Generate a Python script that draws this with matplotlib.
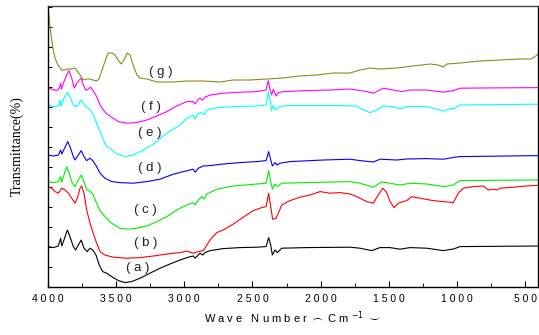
import matplotlib
matplotlib.use("Agg")
import matplotlib.pyplot as plt
import numpy as np

# FT-IR spectra (a)-(g), vertically offset transmittance in arbitrary units
wn_a = [4000, 3961, 3924, 3907, 3899, 3883, 3858, 3839, 3814, 3797, 3778, 3756, 3736, 3712, 3692, 3672,
        3648, 3624, 3599, 3569, 3533, 3484, 3435, 3386, 3325, 3252, 3178, 3105, 3031, 2971, 2934, 2921,
        2897, 2885, 2865, 2848, 2811, 2714, 2591, 2469, 2400, 2381, 2366, 2354, 2335, 2318, 2285, 2102,
        1784, 1711, 1625, 1564, 1491, 1417, 1344, 1222, 1100, 1026, 977, 397]
tr_a = [2.02, 1.97, 2.05, 2.44, 2.05, 2.35, 2.85, 2.52, 2.02, 1.85, 2.10, 2.35, 1.94, 1.77, 1.94, 1.85,
        1.60, 1.10, 0.77, 0.69, 0.52, 0.32, 0.22, 0.27, 0.44, 0.69, 0.94, 1.15, 1.35, 1.49, 1.55, 1.44,
        1.60, 1.69, 1.60, 1.72, 1.82, 1.92, 1.97, 1.99, 2.02, 2.47, 2.10, 1.60, 1.85, 1.72, 1.94, 1.97,
        1.99, 1.94, 1.82, 1.97, 1.97, 1.89, 1.97, 1.94, 1.82, 1.90, 2.02, 2.05]

wn_b = [4000, 3973, 3949, 3924, 3899, 3875, 3851, 3826, 3802, 3785, 3765, 3753, 3736, 3716, 3692, 3668,
        3643, 3618, 3582, 3521, 3423, 3325, 3227, 3129, 3031, 2982, 2934, 2897, 2861, 2811, 2762, 2714,
        2640, 2567, 2494, 2432, 2400, 2381, 2366, 2352, 2327, 2310, 2285, 2224, 2151, 2078, 2004, 1931,
        1858, 1784, 1735, 1662, 1613, 1577, 1544, 1515, 1491, 1461, 1430, 1393, 1368, 1332, 1271, 1173,
        1100, 1026, 990, 953, 880, 806, 769, 733, 708, 684, 586, 488, 397]
tr_b = [5.02, 4.94, 4.77, 4.69, 4.94, 4.85, 4.69, 4.44, 4.19, 4.44, 4.94, 5.05, 4.69, 3.85, 3.19, 2.69,
        2.19, 1.77, 1.60, 1.49, 1.44, 1.47, 1.55, 1.65, 1.72, 1.80, 1.69, 1.77, 1.82, 2.35, 2.72, 2.85,
        3.15, 3.49, 3.82, 3.97, 4.02, 4.69, 4.02, 3.39, 3.44, 3.69, 4.10, 4.32, 4.49, 4.60, 4.77, 4.69,
        4.72, 4.65, 4.52, 4.27, 4.19, 4.60, 4.94, 4.72, 4.27, 3.97, 4.19, 4.27, 4.32, 4.52, 4.44, 4.32,
        4.27, 4.22, 4.69, 4.94, 5.02, 5.05, 4.85, 4.89, 4.85, 4.94, 4.99, 5.05, 5.09]

wn_c = [4000, 3961, 3924, 3907, 3899, 3883, 3863, 3844, 3822, 3802, 3778, 3756, 3736, 3716, 3692, 3668,
        3643, 3618, 3582, 3533, 3472, 3411, 3349, 3276, 3202, 3129, 3056, 2982, 2934, 2921, 2897, 2872,
        2855, 2836, 2762, 2640, 2469, 2400, 2381, 2366, 2354, 2335, 2318, 2285, 2102, 1784, 1711, 1613,
        1552, 1491, 1417, 1344, 1222, 1100, 1026, 977, 397]
tr_c = [5.27, 5.22, 5.27, 5.52, 5.24, 5.60, 6.02, 5.69, 5.19, 5.02, 5.35, 5.60, 5.27, 4.85, 4.80, 4.60,
        4.19, 3.82, 3.52, 3.19, 2.94, 2.89, 2.94, 3.05, 3.27, 3.52, 3.85, 4.10, 4.22, 4.10, 4.35, 4.52,
        4.39, 4.64, 4.89, 5.05, 5.15, 5.19, 5.82, 5.27, 4.89, 5.15, 5.02, 5.19, 5.22, 5.27, 5.19, 4.99,
        5.25, 5.19, 5.10, 5.19, 5.15, 5.02, 5.10, 5.32, 5.35]

wn_d = [4000, 3961, 3924, 3907, 3899, 3875, 3855, 3839, 3814, 3802, 3778, 3756, 3736, 3716, 3692, 3672,
        3643, 3618, 3582, 3533, 3472, 3374, 3276, 3178, 3081, 3007, 2934, 2921, 2897, 2861, 2811, 2714,
        2591, 2469, 2400, 2381, 2366, 2354, 2335, 2318, 2298, 2224, 1980, 1784, 1711, 1613, 1564, 1442,
        1368, 1222, 1100, 1014, 977, 397]
tr_d = [6.60, 6.55, 6.60, 6.85, 6.65, 6.99, 7.27, 7.02, 6.52, 6.35, 6.60, 6.82, 6.52, 6.32, 6.44, 6.32,
        6.02, 5.69, 5.44, 5.27, 5.22, 5.19, 5.27, 5.39, 5.64, 5.77, 5.89, 5.74, 5.94, 6.05, 6.07, 6.15,
        6.22, 6.27, 6.32, 6.77, 6.35, 6.05, 6.22, 6.10, 6.19, 6.27, 6.35, 6.39, 6.32, 6.25, 6.39, 6.35,
        6.40, 6.42, 6.39, 6.49, 6.52, 6.57]

wn_e = [4000, 3961, 3924, 3912, 3905, 3883, 3858, 3839, 3814, 3789, 3765, 3753, 3729, 3704, 3687, 3668,
        3643, 3618, 3594, 3569, 3545, 3496, 3435, 3374, 3301, 3227, 3129, 3031, 2982, 2934, 2921, 2897,
        2872, 2855, 2836, 2762, 2640, 2469, 2400, 2384, 2371, 2359, 2347, 2327, 2303, 2249, 2029, 1858,
        1735, 1687, 1637, 1588, 1540, 1467, 1417, 1368, 1222, 1148, 1100, 1051, 1014, 977, 397]
tr_e = [9.10, 9.02, 9.05, 9.35, 9.05, 9.44, 9.72, 9.52, 9.10, 9.02, 9.27, 9.35, 9.05, 8.94, 8.85, 8.60,
        8.19, 7.77, 7.35, 7.02, 6.94, 6.65, 6.52, 6.60, 6.85, 7.15, 7.69, 8.10, 8.44, 8.60, 8.39, 8.69,
        8.72, 8.60, 8.85, 8.97, 9.02, 9.05, 9.10, 9.77, 9.35, 8.82, 9.10, 8.85, 9.02, 9.07, 9.07, 9.07,
        9.05, 8.85, 8.72, 8.85, 9.05, 9.02, 8.90, 9.02, 9.02, 8.90, 8.80, 8.90, 8.94, 9.10, 9.14]

wn_f = [4000, 3973, 3936, 3917, 3907, 3902, 3883, 3863, 3846, 3826, 3807, 3789, 3770, 3756, 3741, 3723,
        3704, 3687, 3668, 3643, 3618, 3594, 3569, 3533, 3484, 3423, 3349, 3276, 3202, 3129, 3056, 2982,
        2934, 2921, 2897, 2885, 2865, 2848, 2811, 2714, 2591, 2469, 2400, 2384, 2371, 2359, 2347, 2327,
        2310, 2274, 2102, 1931, 1784, 1662, 1613, 1540, 1467, 1405, 1344, 1222, 1100, 1026, 977, 830, 397]
tr_f = [9.97, 9.89, 9.82, 9.94, 10.19, 9.89, 10.27, 10.60, 10.82, 10.44, 9.94, 10.19, 10.35, 10.44, 10.10, 9.85,
        9.89, 9.99, 9.82, 9.52, 9.10, 8.85, 8.65, 8.49, 8.27, 8.19, 8.22, 8.35, 8.55, 8.77, 9.05, 9.27,
        9.27, 9.15, 9.39, 9.44, 9.35, 9.49, 9.60, 9.69, 9.74, 9.77, 9.85, 10.32, 9.85, 9.60, 9.89, 9.55,
        9.72, 9.77, 9.82, 9.85, 9.90, 9.77, 9.69, 9.94, 9.85, 9.77, 9.85, 9.85, 9.74, 9.82, 9.94, 9.95, 9.97]

wn_g = [4000, 3985, 3966, 3949, 3927, 3899, 3875, 3853, 3826, 3802, 3787, 3765, 3743, 3716, 3692, 3670,
        3643, 3626, 3596, 3560, 3530, 3508, 3486, 3464, 3442, 3420, 3398, 3376, 3347, 3325, 3274, 3200,
        3083, 2980, 2863, 2738, 2643, 2518, 2393, 2276, 2151, 2026, 1909, 1784, 1711, 1638, 1564, 1439,
        1322, 1197, 1139, 1102, 1073, 977, 830, 684, 537, 464, 442, 412, 397]
tr_g = [14.0, 13.0, 12.0, 11.45, 11.1, 10.85, 10.85, 10.9, 10.9, 10.95, 10.8, 10.6, 10.35, 10.4, 10.4, 10.35,
        10.3, 10.4, 11.0, 11.7, 11.7, 11.6, 11.35, 11.15, 11.35, 11.7, 11.6, 11.1, 10.6, 10.45, 10.4, 10.25,
        10.25, 10.3, 10.3, 10.25, 10.35, 10.35, 10.4, 10.45, 10.55, 10.6, 10.7, 10.7, 10.85, 10.95, 10.9, 10.95,
        11.05, 11.15, 11.1, 11.0, 11.15, 11.2, 11.3, 11.35, 11.4, 11.4, 11.45, 11.6, 11.75]

series = [
    ("(a)", wn_a, tr_a, "#000000", (3340, 0.95)),
    ("(b)", wn_b, tr_b, "#ff0000", (3281, 2.20)),
    ("(c)", wn_c, tr_c, "#00ee00", (3288, 3.85)),
    ("(d)", wn_d, tr_d, "#0000ff", (3252, 5.95)),
    ("(e)", wn_e, tr_e, "#00ffff", (3252, 7.70)),
    ("(f)", wn_f, tr_f, "#ff00ff", (3244, 9.00)),
    ("(g)", wn_g, tr_g, "#8b8b1e", (3171, 10.75)),
]

x_ticks = [4000, 3500, 3000, 2500, 2000, 1500, 1000, 500]

fig = plt.figure(figsize=(5.39, 3.35), dpi=100)
ax = fig.add_axes([48 / 539, 48 / 335, 490 / 539, 281 / 335])

for name, wn, tr, color, (lx, ly) in series:
    ax.plot(wn, tr, color=color, lw=0.8)
    tag = name[0] + " " + name[1] + " " + name[2]
    ax.text(lx, ly, tag, ha="center", va="center", fontsize=9.5,
            family="Liberation Sans", color="#222222")

ax.set_xlim(4000, 405)
ax.set_ylim(0, 14.05)
ax.set_xticks(x_ticks)
ax.set_xticklabels([" ".join(str(t)) for t in x_ticks], family="Liberation Sans", fontsize=7.5)
ax.set_xticks(np.arange(3750, 400, -500), minor=True)
ax.set_yticks(np.arange(0, 14.1, 1))
ax.set_yticklabels([])
ax.tick_params(axis="both", which="both", direction="in")
ax.tick_params(axis="x", which="major", length=4, pad=5)
ax.tick_params(axis="x", which="minor", length=3)
ax.tick_params(axis="y", length=3)
ax.tick_params(top=False, right=False)
for side in ax.spines.values():
    side.set_linewidth(1.0)
ax.spines["top"].set_color("#444444")

ax.set_ylabel("Transmittance(%)", family="Liberation Serif", fontsize=10, labelpad=14)
ax.set_xlabel(r"W a v e   N u m b e r $\frown$ C m $^{-1}$ $\smile$", family="Liberation Sans",
              fontsize=8, labelpad=4)

fig.savefig("out.png", dpi=100)
